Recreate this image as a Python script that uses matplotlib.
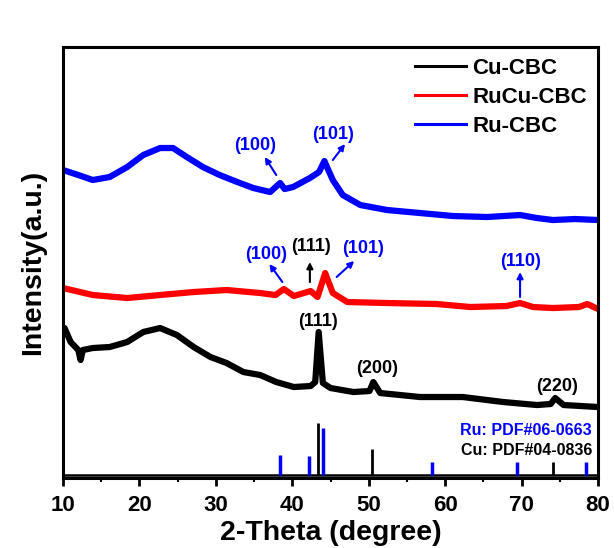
import matplotlib.pyplot as plt
from matplotlib.ticker import MultipleLocator

plt.rcParams['font.family'] = ['Liberation Sans', 'DejaVu Sans']
plt.rcParams['font.weight'] = 'bold'

# ---------------- XRD patterns (offset stacked, arbitrary units) ----------------
ru_x = [10, 12, 13.9, 16.1, 18.4, 20.5, 22.7, 24.4, 26.2, 28.3, 30.5, 32.8, 34.9, 37.1,
        38.4, 39.0, 40.1, 42.3, 43.5, 44.2, 44.6, 45.3, 46.6, 48.9, 52.4, 56.7, 61.0,
        65.5, 69.8, 72.0, 74.1, 77.0, 80]
ru_y = [308, 303, 298, 301, 311, 323, 330, 330, 321, 311, 303, 296, 290, 286,
        295, 289, 291, 300, 306, 317, 310, 298, 283, 273, 268, 265, 262,
        261, 263, 260, 258, 259, 258]

rucu_x = [10, 13.9, 18.4, 22.7, 27.1, 31.4, 35.8, 37.8, 38.9, 40.2, 42.4, 43.3, 44.3,
          45.3, 47.2, 52.4, 58.9, 63.3, 68.0, 69.8, 71.5, 74.1, 77.5, 78.6, 80]
rucu_y = [190, 183, 180, 183, 186, 188, 185, 183, 189, 182, 187, 181, 205,
          185, 176, 175, 174, 171, 172, 175, 171, 170, 171, 174, 169]

cu_x = [10, 10.2, 11, 12.0, 12.3, 12.6, 13.9, 16.1, 18.4, 20.5, 22.7, 24.9, 27.1, 29.3,
        31.4, 33.6, 35.8, 37.9, 40.2, 42.4, 43.0, 43.45, 44.0, 45.0, 48.0, 50.1, 50.6,
        51.5, 56.7, 62.3, 67.6, 72.0, 73.8, 74.4, 75.5, 80]
cu_y = [146, 150, 136, 128, 118, 128, 130, 131, 136, 146, 150, 143, 131, 121,
        115, 106, 103, 96, 91, 92, 96, 146, 95, 90, 86, 87, 96,
        85, 81, 81, 76, 73, 74, 80, 73, 71]

# ---------------- standard cards ----------------
ru_ref_pos = [38.4, 42.2, 44.0, 58.3, 69.4, 78.4]
ru_ref_h = [20, 19, 47, 13, 13, 13]
cu_ref_pos = [43.3, 50.4, 74.1]
cu_ref_h = [52, 26, 13]
ref_base = 3

fig = plt.figure(figsize=(6.14, 5.48), dpi=100)
ax = fig.add_axes([0.1026, 0.1277, 0.8714, 0.7865])

ax.plot(cu_x, cu_y, color='black', lw=4.5, label='Cu-CBC', solid_joinstyle='round')
ax.plot(rucu_x, rucu_y, color='#ff0000', lw=4.5, label='RuCu-CBC', solid_joinstyle='round')
ax.plot(ru_x, ru_y, color='#0000ff', lw=4.5, label='Ru-CBC', solid_joinstyle='round')

ax.axhline(ref_base, color='black', lw=1.8)
ax.vlines(ru_ref_pos, ref_base, [ref_base + h for h in ru_ref_h], color='#0000ff', lw=2.5)
ax.vlines(cu_ref_pos, ref_base, [ref_base + h for h in cu_ref_h], color='black', lw=2.0)

ax.text(79.2, 48, 'Ru: PDF#06-0663', color='#0000ff', fontsize=11.5, ha='right', va='center')
ax.text(79.2, 28, 'Cu: PDF#04-0836', color='black', fontsize=11.5, ha='right', va='center')

blue = '#0000ff'
arr = dict(arrowstyle='-|>', lw=1.5, mutation_scale=9, shrinkA=0, shrinkB=0)


def label(txt, x, y, color):
    ax.text(x, y, txt, color=color, fontsize=13, ha='center', va='center')


def arrow(x0, y0, x1, y1, color):
    ax.annotate('', xy=(x1, y1), xytext=(x0, y0), arrowprops=dict(arr, color=color))


# Ru-CBC peaks
label('(100)', 35.1, 333, blue)
arrow(37.9, 303, 36.4, 321, blue)
label('(101)', 45.3, 344, blue)
arrow(45.3, 318, 46.9, 334, blue)

# RuCu-CBC peaks
label('(100)', 36.6, 224, blue)
arrow(38.7, 196, 37.0, 214, blue)
label('(111)', 42.4, 232, 'black')
arrow(42.3, 196, 42.3, 216, 'black')
label('(101)', 49.3, 230, blue)
arrow(45.8, 201, 48.1, 217, blue)
label('(110)', 69.8, 217, blue)
arrow(69.8, 181, 69.8, 206, blue)

# Cu-CBC peaks
label('(111)', 43.3, 157, 'black')
label('(200)', 51.1, 110, 'black')
label('(220)', 74.6, 92, 'black')

ax.set_xlim(10, 80)
ax.set_ylim(0, 431)
ax.set_yticks([])
ax.xaxis.set_major_locator(MultipleLocator(10))
ax.xaxis.set_minor_locator(MultipleLocator(5))
ax.tick_params(axis='x', which='major', direction='out', length=6, width=2, labelsize=16, pad=6)
ax.tick_params(axis='x', which='minor', direction='out', length=3, width=1.5)
for lab in ax.get_xticklabels():
    lab.set_fontweight('bold')
for s in ax.spines.values():
    s.set_linewidth(2.2)

ax.set_xlabel('2-Theta (degree)', fontsize=20.5, fontweight='bold', labelpad=3)
ax.set_ylabel('Intensity(a.u.)', fontsize=20.5, fontweight='bold', labelpad=12)

leg = ax.legend(loc='upper right', frameon=False, fontsize=16, handlelength=2.3,
                handletextpad=0.3, labelspacing=0.35, borderaxespad=0.1)
for t in leg.get_texts():
    t.set_fontweight('bold')
for h in leg.get_lines():
    h.set_linewidth(2.2)

fig.savefig('out.png', dpi=100)
